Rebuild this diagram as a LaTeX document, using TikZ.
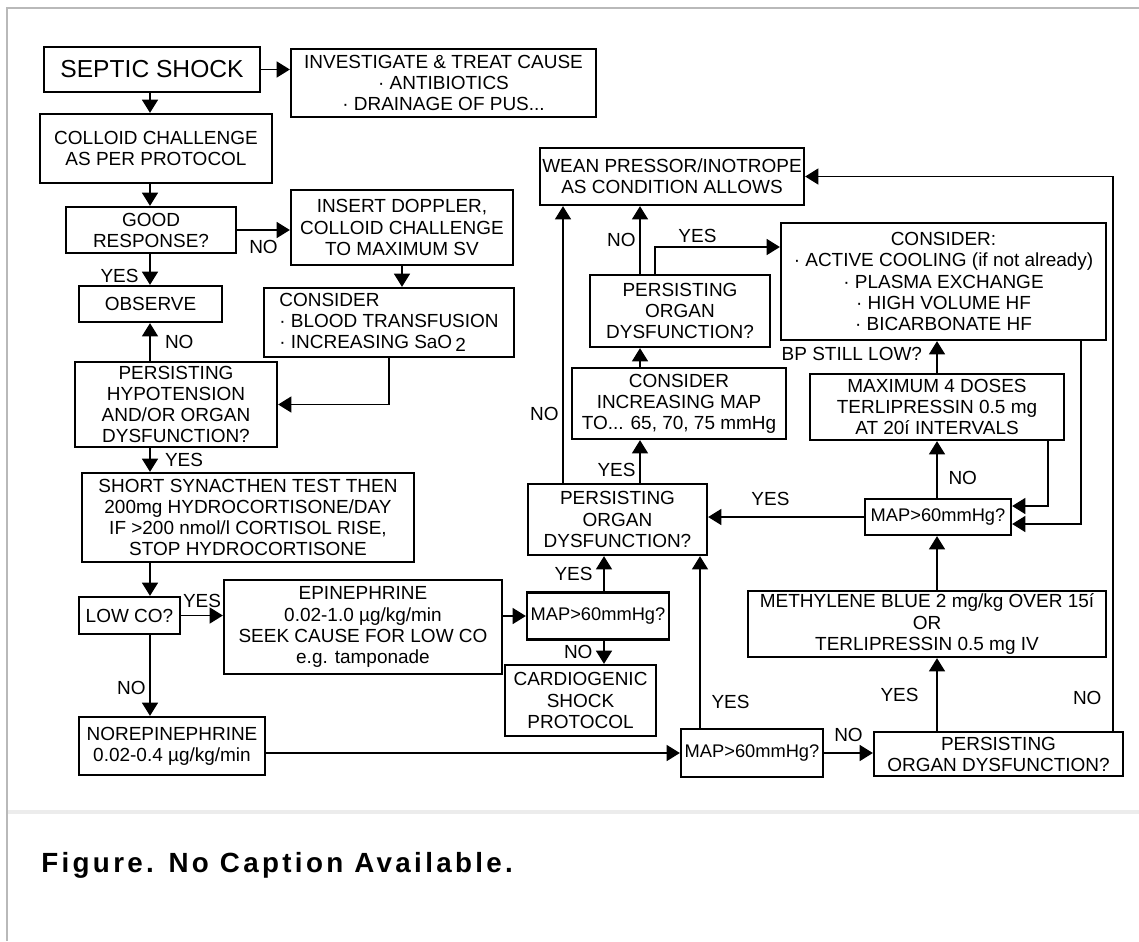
\documentclass[tikz,border=0pt]{standalone}
\usepackage{fontspec}
\setmainfont{Liberation Sans}
\newfontfamily\capfont[LetterSpace=12]{Liberation Sans}
\usetikzlibrary{arrows.meta}

\begin{document}
\begin{tikzpicture}[x=0.02cm, y=-0.02cm,
    box/.style={draw, line width=1.3pt, align=center, inner sep=1pt,
      font=\fontsize{10.8}{12}\selectfont},
    mapbox/.style={box, inner xsep=0pt, font=\fontsize{10.4}{12}\selectfont},
    lbl/.style={font=\fontsize{10.8}{12}\selectfont, inner sep=2pt},
    arr/.style={line width=1.1pt, -{Triangle[length=7.5pt,width=9pt]}}]

    \useasboundingbox (0,0) rectangle (1139,941);
    \draw [gray!55, line width=1.3pt] (7,941) -- (7,8) -- (1139,8);
    \draw [gray!15, line width=2.5pt] (8,812) -- (1139,812);

    % columns of the vertical connectors
    \coordinate (lcol) at (150,0);
    \coordinate (pcol) at (604,0);
    \coordinate (wcol) at (563,0);
    \coordinate (mcol) at (640,0);
    \coordinate (tcol) at (655,0);
    \coordinate (ycol) at (700,0);
    \coordinate (rcol) at (937,0);
    \coordinate (dcol) at (1048,0);
    \coordinate (ccol) at (1081,0);
    \coordinate (ncol) at (1113,0);

    % left column
    \node [box, minimum width=4.32cm, minimum height=0.9cm,
    font=\fontsize{14}{16}\selectfont] (septic) at (152,69.5) {SEPTIC SHOCK};

    \node [box, minimum width=6.1cm, minimum height=1.36cm] (cause) at (443.5,83)
    {INVESTIGATE \& TREAT CAUSE\\· ANTIBIOTICS\\· DRAINAGE OF PUS...};

    \node [box, minimum width=4.64cm, minimum height=1.38cm] (colloid) at (156,148.5)
    {COLLOID CHALLENGE\\AS PER PROTOCOL};

    \node [box, minimum width=3.4cm, minimum height=0.92cm] (good) at (151,230)
    {GOOD\\RESPONSE?};

    \node [box, minimum width=4.44cm, minimum height=1.5cm] (doppler) at (402,227.5)
    {INSERT DOPPLER,\\COLLOID CHALLENGE\\TO MAXIMUM SV};

    \node [box, minimum width=2.86cm, minimum height=0.72cm] (observe) at (150.5,304)
    {OBSERVE};

    \node [box, minimum width=5cm, minimum height=1.38cm, align=left] (blood)
    at (389,322.5)
    {CONSIDER\\· BLOOD TRANSFUSION\\· INCREASING SaO\,\raisebox{-.3ex}{2}};

    \node [box, minimum width=4.04cm, minimum height=1.7cm] (hypo) at (176,404.5)
    {PERSISTING\\HYPOTENSION\\AND/OR ORGAN\\DYSFUNCTION?};

    \node [box, minimum width=6.64cm, minimum height=1.78cm] (synacthen)
    at (248,517.5)
    {SHORT SYNACTHEN TEST THEN\\200mg HYDROCORTISONE/DAY\\IF >200 nmol/l CORTISOL RISE,\\STOP HYDROCORTISONE};

    \node [box, minimum width=2.02cm, minimum height=0.74cm] (lowco) at (129.5,615.5)
    {LOW CO?};

    \node [box, minimum width=5.56cm, minimum height=1.88cm] (epi) at (363,627)
    {EPINEPHRINE\\0.02-1.0 µg/kg/min\\SEEK CAUSE FOR LOW CO\\e.g. tamponade};

    \node [box, minimum width=3.72cm, minimum height=1.16cm] (norepi) at (172,746)
    {NOREPINEPHRINE\\0.02-0.4 µg/kg/min};

    % middle
    \node [box, minimum width=5.28cm, minimum height=1.14cm] (wean) at (672,176.5)
    {WEAN PRESSOR/INOTROPE\\AS CONDITION ALLOWS};

    \node [box, minimum width=3.6cm, minimum height=1.44cm] (orgtop) at (680,311)
    {PERSISTING\\ORGAN\\DYSFUNCTION?};

    \node [box, minimum width=4.28cm, minimum height=1.42cm] (incmap) at (679,403.5)
    {CONSIDER\\INCREASING MAP\\TO... 65, 70, 75 mmHg};

    \node [box, minimum width=3.58cm, minimum height=1.42cm] (orgmid) at (617.5,519.5)
    {PERSISTING\\ORGAN\\DYSFUNCTION?};

    \node [mapbox, minimum width=2.84cm, minimum height=0.94cm] (mapa) at (598,616)
    {MAP>60mmHg?};

    \node [box, minimum width=3.02cm, minimum height=1.42cm] (cardio) at (580.5,700.5)
    {CARDIOGENIC\\SHOCK\\PROTOCOL};

    \node [mapbox, minimum width=2.84cm, minimum height=0.96cm] (mapb) at (752,753)
    {MAP>60mmHg?};

    % right column
    \node [box, minimum width=6.5cm, minimum height=2.34cm] (cool) at (943.5,281.5)
    {CONSIDER:\\· ACTIVE COOLING (if not already)\\· PLASMA EXCHANGE\\· HIGH VOLUME HF\\· BICARBONATE HF};

    \node [box, minimum width=5.08cm, minimum height=1.32cm] (terli) at (937,407)
    {MAXIMUM 4 DOSES\\TERLIPRESSIN 0.5 mg\\AT 20í INTERVALS};

    \node [mapbox, minimum width=2.92cm, minimum height=0.72cm] (mapc) at (938,517)
    {MAP>60mmHg?};

    \node [box, minimum width=7.16cm, minimum height=1.32cm] (blue) at (927,624)
    {METHYLENE BLUE 2 mg/kg OVER 15í\\OR\\TERLIPRESSIN 0.5 mg IV};

    \node [box, minimum width=4.98cm, minimum height=0.88cm] (orgbot) at (998.5,754)
    {PERSISTING\\ORGAN DYSFUNCTION?};

    % connectors, left part
    \draw [arr] (septic.east) -- (septic.east -| cause.west);
    \draw [arr] (lcol |- septic.south) -- (lcol |- colloid.north);
    \draw [arr] (lcol |- colloid.south) -- (lcol |- good.north);
    \draw [arr] (good.east) -- (good.east -| doppler.west)
    node [lbl, midway, below=3pt] {NO};
    \draw [arr] (lcol |- good.south) -- (lcol |- observe.north)
    node [lbl, pos=.7, left=4pt] {YES};
    \draw [arr] (doppler.south) -- (doppler.south |- blood.north);
    \draw [arr] (blood.south) |- (hypo.east);
    \draw [arr] (lcol |- hypo.north) -- (lcol |- observe.south)
    node [lbl, midway, right=6pt] {NO};
    \draw [arr] (lcol |- hypo.south) -- (lcol |- synacthen.north)
    node [lbl, midway, right=6pt] {YES};
    \draw [arr] (lcol |- synacthen.south) -- (lcol |- lowco.north);
    \draw [arr] (lowco.east) -- (lowco.east -| epi.west)
    node [lbl, midway, above=2pt] {YES};
    \draw [arr] (lcol |- lowco.south) -- (lcol |- norepi.north)
    node [lbl, pos=.65, left] {NO};

    % connectors, middle
    \draw [arr] (mapa.west -| epi.east) -- (mapa.west);
    \draw [arr] (pcol |- mapa.north) -- (pcol |- orgmid.south)
    node [lbl, midway, left=4pt] {YES};
    \draw [arr] (pcol |- mapa.south) -- (pcol |- cardio.north)
    node [lbl, midway, left=4pt] {NO};
    \draw [arr] (mapb.west -| norepi.east) -- (mapb.west);
    \draw [arr] (ycol |- mapb.north) -- (ycol |- orgmid.south)
    node [lbl, pos=.15, right=4pt] {YES};
    \draw [arr] (mapb.east) -- (mapb.east -| orgbot.west)
    node [lbl, midway, above=4pt] {NO};
    \draw [arr] (mcol |- orgmid.north) -- (mcol |- incmap.south)
    node [lbl, pos=.3, left] {YES};
    \draw [arr] (wcol |- orgmid.north) -- (wcol |- wean.south)
    node [lbl, pos=.25, left] {NO};
    \draw [arr] (mcol |- incmap.north) -- (mcol |- orgtop.south);
    \draw [arr] (mcol |- orgtop.north) -- (mcol |- wean.south)
    node [lbl, midway, left] {NO};
    \draw [arr] (tcol |- orgtop.north) |- ([yshift=0.69cm]cool.west)
    node [lbl, pos=.67, above] {YES};

    % connectors, right part
    \draw [arr] (rcol |- orgbot.north) -- (rcol |- blue.south)
    node [lbl, midway, left=8pt] {YES};
    \draw [arr] (ncol |- orgbot.north) |- (wean.east)
    node [lbl, pos=.03, left=4pt] {NO};
    \draw [arr] (rcol |- blue.north) -- (rcol |- mapc.south);
    \draw [arr] (rcol |- mapc.north) -- (rcol |- terli.south)
    node [lbl, pos=.35, right=4pt] {NO};
    \draw [arr] (mapc.west) -- (mapc.west -| orgmid.east)
    node [lbl, pos=.6, above=4pt] {YES};
    \draw [arr] (rcol |- terli.north) -- (rcol |- cool.south)
    node [lbl, pos=.6, left=6pt] {BP STILL LOW?};
    \draw [arr] (dcol |- terli.south) |- ([yshift=0.22cm]mapc.east);
    \draw [arr] (ccol |- cool.south) |- ([yshift=-0.14cm]mapc.east);

    \node [font=\capfont\bfseries\fontsize{15.8}{18}\selectfont, anchor=base west,
    inner sep=0pt] (caption) at (41,872) {Figure. No Caption Available.};
\end{tikzpicture}
\end{document}
